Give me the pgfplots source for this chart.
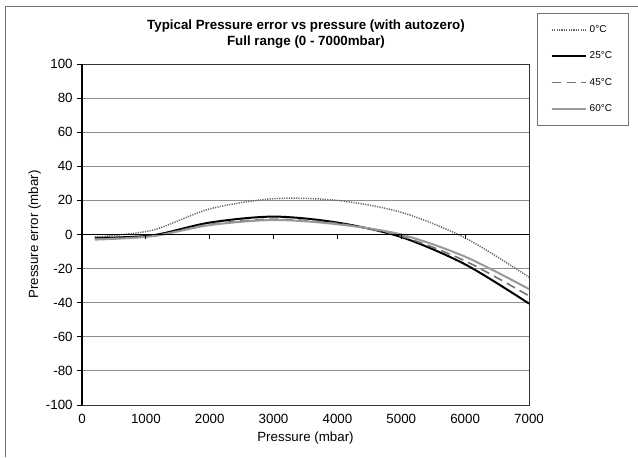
\documentclass[border=0pt]{standalone}
\usepackage{pgfplots}
\pgfplotsset{compat=1.18}
\usepackage{fontspec}
\setmainfont{Liberation Sans}
\begin{document}
\begin{tikzpicture}
\begin{scope}[x=0.75pt,y=-0.75pt]
\useasboundingbox (0,0) rectangle (638,457);
\draw[black!55, line width=0.75pt] (5,457) -- (5,6) -- (638,6);
\node[font=\bfseries\fontsize{10}{12}\selectfont, align=center] at (306,34) {Typical Pressure error vs pressure (with autozero)\\Full range (0 - 7000mbar)};
\end{scope}
\begin{axis}[
  at={(61.5pt,-303.75pt)}, anchor=south west,
  width=335.25pt, height=255.75pt, scale only axis,
  xmin=0, xmax=7000, ymin=-100, ymax=100,
  xtick={0,1000,...,7000}, ytick={-100,-80,...,100},
  /pgf/number format/assume math mode=true,
  /pgf/number format/1000 sep={},
  scaled x ticks=false,
  ymajorgrids, grid style={black!45, line width=0.75pt},
  axis line style={black!80, line width=0.75pt},
  x tick style={draw=none},
  ytick pos=left, tick align=outside, major tick length=3.5pt,
  y tick style={black, line width=0.75pt},
  tick label style={font=\fontsize{10}{12}\selectfont},
  xlabel={Pressure (mbar)}, ylabel={Pressure error (mbar)},
  label style={font=\fontsize{10}{12}\selectfont},
  xlabel style={yshift=1pt},
  ylabel style={yshift=-3pt},
  clip=false,
  legend style={at={(1.018,1.1496)}, anchor=north west, draw=black!55, line width=0.75pt,
    font=\fontsize{7.5}{9}\selectfont, row sep=9pt, inner xsep=10pt, inner ysep=7pt, legend cell align=left},
  legend image code/.code={\draw[#1] (0cm,0cm) -- (0.9cm,0cm);},
]
\addplot[black!60, line width=1.1pt, dash pattern=on 0.9pt off 0.9pt, smooth] coordinates {
(200,-1.5) (1100,2.5) (2000,15) (3000,21) (4000,20) (5000,13) (6000,-2) (7000,-25)};
\addlegendentry{0°C}
\addplot[black, line width=1.5pt, smooth] coordinates {
(200,-2) (1100,-0.5) (2000,7) (3000,10.5) (4000,7) (5000,-1.5) (6000,-17.5) (7000,-40.5)};
\addlegendentry{25°C}
\addplot[black!55, line width=1.2pt, dash pattern=on 7pt off 4pt, smooth] coordinates {
(200,-2.5) (1100,-1) (2000,6) (3000,9) (4000,6.5) (5000,-1) (6000,-15.5) (7000,-36)};
\addlegendentry{45°C}
\addplot[black!40, line width=1.5pt, smooth] coordinates {
(200,-3) (1100,-1) (2000,5.5) (3000,8.5) (4000,6) (5000,0) (6000,-13) (7000,-32)};
\addlegendentry{60°C}
\draw[black, line width=0.75pt] (axis cs:0,0) -- (axis cs:7000,0);
\draw[black, line width=1pt] (axis cs:0,-100) -- (axis cs:0,100);
\pgfplotsinvokeforeach{1000,2000,3000,4000,5000,6000}{
  \draw[black, line width=0.75pt] (axis cs:#1,0) -- ([yshift=-3.5pt]axis cs:#1,0);
}
\end{axis}
\end{tikzpicture}
\end{document}
